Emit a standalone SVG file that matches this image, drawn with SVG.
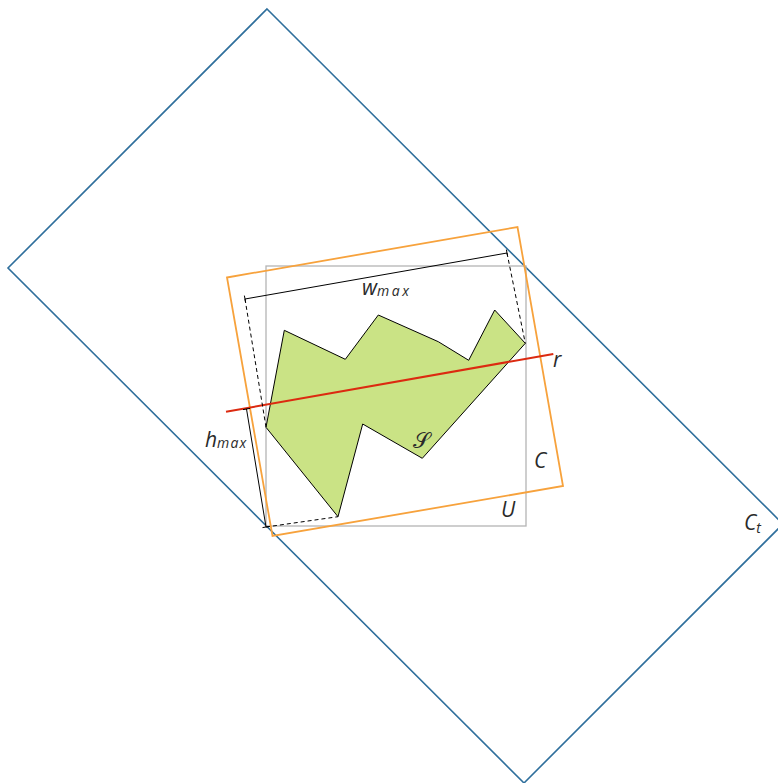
<svg xmlns="http://www.w3.org/2000/svg" width="778" height="783" viewBox="0 0 778 783">
<style>
.lbl{font-family:"Open Sans","DejaVu Sans",sans-serif;font-style:italic;font-weight:400;fill:#2a2a2a;font-size:21px}
.sub{font-size:14px}
.thin{fill:none;stroke:#000;stroke-width:1}
.dash{fill:none;stroke:#000;stroke-width:1;stroke-dasharray:4,3}
</style>
<rect width="778" height="783" fill="#fff"/>
<g id="Ct">
<polygon points="267,9 783,524 524,783 8,268" fill="none" stroke="#2f6f9c" stroke-width="1.6"/>
<text class="lbl" x="744" y="530">C<tspan class="sub" dy="3">t</tspan></text>
</g>
<g id="U">
<rect x="266" y="266" width="260" height="260" fill="none" stroke="#b4b4b4" stroke-width="1.3"/>
<text class="lbl" x="501" y="517">U</text>
</g>
<g id="C">
<polygon points="227,277.5 517.5,227 563,486 272.5,536" fill="none" stroke="#f7a23c" stroke-width="1.8"/>
<text class="lbl" x="534" y="468">C</text>
</g>
<g id="S">
<polygon points="284.3,330.3 345.3,359.3 378.3,315 438.3,341.7 468.7,360.3 494.7,310 525.3,343.3 422.3,458.3 362.7,424 338,516.7 266,427.3" fill="#cae385" stroke="#000" stroke-width="1"/>
<text class="lbl" x="413" y="448" style="font-style:normal;font-size:22px">𝒮</text>
</g>
<g id="r">
<line x1="226" y1="411.7" x2="553.3" y2="354" stroke="#dc2a10" stroke-width="2"/>
<text class="lbl" x="553" y="367">r</text>
</g>
<g id="connectors">
<line class="thin" x1="245" y1="299" x2="507" y2="253"/>
<line class="thin" x1="244.4" y1="295.6" x2="245.6" y2="302.4"/>
<line class="thin" x1="506.4" y1="249.6" x2="507.6" y2="256.4"/>
<line class="dash" x1="245" y1="299" x2="266" y2="427"/>
<line class="dash" x1="507" y1="253" x2="525.3" y2="343.3"/>
<line class="thin" x1="246.5" y1="409" x2="266" y2="527"/>
<line class="thin" x1="243" y1="409.6" x2="250" y2="408.4"/>
<line class="thin" x1="262.5" y1="527.6" x2="269.5" y2="526.4"/>
<line class="dash" x1="266" y1="527" x2="338" y2="516.7"/>
</g>
<g id="labels">
<text class="lbl" x="362" y="295">w<tspan class="sub" dy="1" textLength="32" lengthAdjust="spacing">max</tspan></text>
<text class="lbl" x="205" y="447">h<tspan class="sub" dy="1" textLength="29" lengthAdjust="spacing">max</tspan></text>
</g>
</svg>
